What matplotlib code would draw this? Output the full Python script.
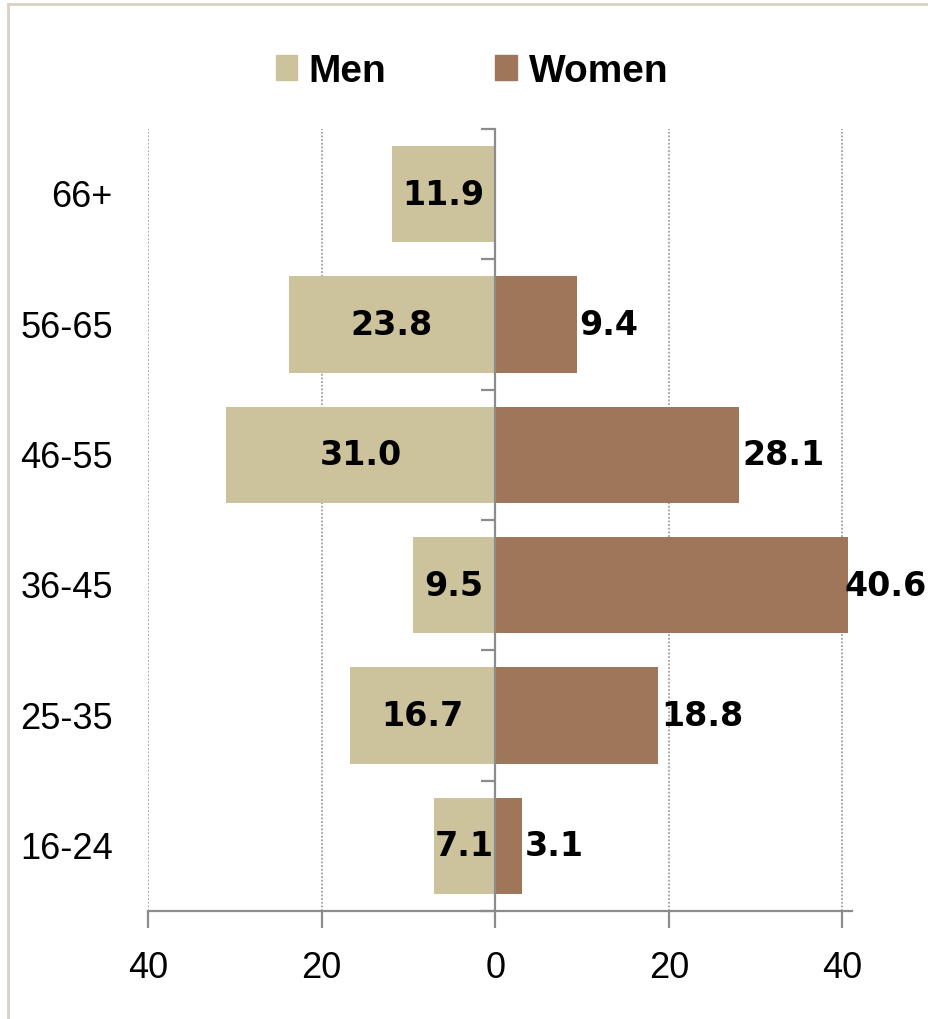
# population-style pyramid of age groups, men on the left and women on the right

import numpy as np
import matplotlib.pyplot as plt
from matplotlib.lines import Line2D
from matplotlib.patches import Patch

groups = ['16-24', '25-35', '36-45', '46-55', '56-65', '66+']
men = [7.1, 16.7, 9.5, 31.0, 23.8, 11.9]
women = [3.1, 18.8, 40.6, 28.1, 9.4, 0.0]
xticks = [-40, -20, 0, 20, 40]
xticklabels = ['40', '20', '0', '20', '40']

men_col = '#CCC39D'
women_col = '#A0765B'
axis_col = '#8C8C8C'
label_font = 'Liberation Sans'

fig = plt.figure(figsize = (9.29, 10.20), dpi = 100)
ax = fig.add_axes([148/929, 108/1020, 704/929, 782/1020])

y = np.arange(len(groups))
ax.barh(y, [-m for m in men], height = 0.74, color = men_col, zorder = 2)
ax.barh(y, women, height = 0.74, color = women_col, zorder = 2)

# data labels: men centred inside the bar, women just past the bar end
women_labels = []
for i in range(len(groups)):
    ax.text(-men[i] / 2, y[i], '%.1f' % men[i], ha = 'center', va = 'center',
            fontsize = 24, fontweight = 'bold', family = 'DejaVu Sans', zorder = 3)
    if women[i] > 0:
        t = ax.annotate('%.1f' % women[i], (women[i], y[i]), xytext = (2, 0), textcoords = 'offset points',
                        ha = 'left', va = 'center', fontsize = 24, fontweight = 'bold',
                        family = 'DejaVu Sans', zorder = 3)
        women_labels.append(t)

ax.set_xlim(-40, 41.1)
ax.set_ylim(-0.5, len(groups) - 0.5)

# vertical axis sits at zero, ticks mark the category boundaries
for s in ['top', 'right']:
    ax.spines[s].set_visible(False)
ax.spines['left'].set_position(('data', 0))
ax.spines['left'].set_color(axis_col)
ax.spines['left'].set_linewidth(1.6)
ax.spines['left'].set_zorder(4)
ax.spines['bottom'].set_color(axis_col)
ax.spines['bottom'].set_linewidth(1.6)
ax.set_yticks(np.arange(-0.5, len(groups), 1.0))
ax.set_yticklabels([])
ax.tick_params(axis = 'y', length = 10, width = 1.6, color = axis_col, direction = 'out')

ax.set_xticks(xticks)
ax.set_xticklabels(xticklabels, fontsize = 26, family = label_font)
ax.tick_params(axis = 'x', length = 12, width = 1.6, color = axis_col, pad = 16)

for v in [-40, -20, 20, 40]:
    ax.axvline(v, color = '#8F8F8F', linestyle = (0, (1.2, 1.2)), linewidth = 1.1, zorder = 1)

for i, g in enumerate(groups):
    ax.text(-0.05, y[i] - 0.02, g, transform = ax.get_yaxis_transform(), ha = 'right', va = 'center',
            fontsize = 26, family = label_font)

handles = [Patch(color = men_col, label = 'Men'), Patch(color = women_col, label = 'Women')]
fig.legend(handles = handles, loc = 'center', bbox_to_anchor = (0.508, 0.929), ncol = 2,
           frameon = False, handlelength = 0.55, handleheight = 0.6, handletextpad = 0.3,
           columnspacing = 2.8, prop = {'family': label_font, 'weight': 'bold', 'size': 28})

# chart frame, only top and left edges are visible in the crop
fig.add_artist(Line2D([8/929, 8/929], [0, 1 - 5/1020], transform = fig.transFigure, color = '#D9D0C1', linewidth = 2))
fig.add_artist(Line2D([8/929, 1], [1 - 5/1020, 1 - 5/1020], transform = fig.transFigure, color = '#D9D0C1', linewidth = 2))

# pull any label that runs past the right edge back inside, like the original does
fig.canvas.draw()
renderer = fig.canvas.get_renderer()
fig_w = fig.bbox.width
for t in women_labels:
    bb = t.get_window_extent(renderer)
    over = bb.x1 - (fig_w - 2)
    if over > 0:
        dx, dy = t.get_position()
        t.set_position((dx - over * 72 / fig.dpi, dy))

fig.savefig('out.png', dpi = 100)
